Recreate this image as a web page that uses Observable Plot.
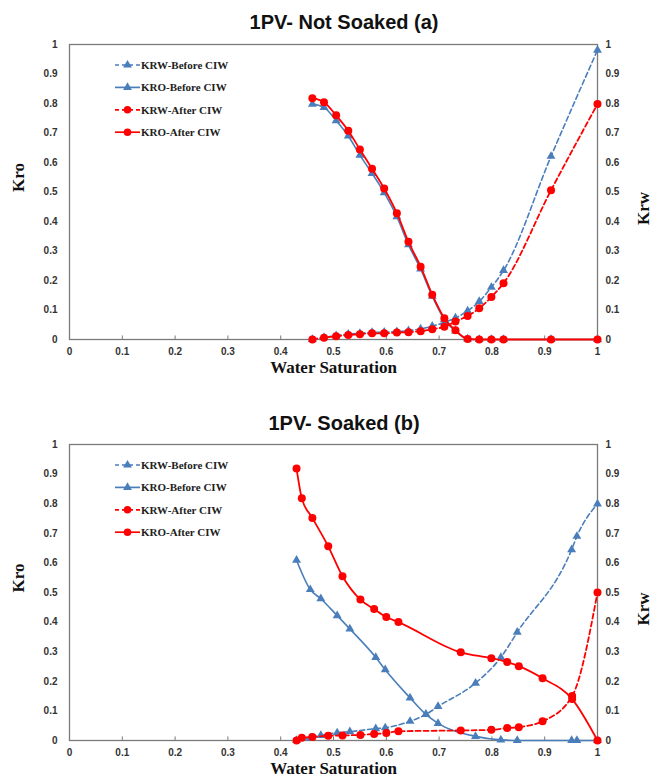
<!DOCTYPE html>
<html><head><meta charset="utf-8">
<script src="https://cdn.jsdelivr.net/npm/d3@7"></script>
<script src="https://cdn.jsdelivr.net/npm/@observablehq/plot@0.6"></script>
<style>
body{margin:0;background:#fff;}
#wrap{position:relative;width:652px;height:783px;overflow:hidden;background:#fff;}
.title{position:absolute;left:18px;width:652px;text-align:center;font:bold 20px "Liberation Sans",Arial,sans-serif;color:#111;line-height:24px;}
.chart{position:absolute;left:0;}
</style></head><body>
<div id="wrap">
<div class="title" style="top:10px">1PV- Not Soaked (a)</div>
<div class="chart" id="a" style="top:34px"></div>
<div class="title" style="top:411px">1PV- Soaked (b)</div>
<div class="chart" id="b" style="top:434px"></div>
</div>
<script>
// ---- data ----
const xTicks = [0, 0.1, 0.2, 0.3, 0.4, 0.5, 0.6, 0.7, 0.8, 0.9, 1];
const yTicks = [0, 0.1, 0.2, 0.3, 0.4, 0.5, 0.6, 0.7, 0.8, 0.9, 1];
const legendLabels = ["KRW-Before CIW", "KRO-Before CIW", "KRW-After CIW", "KRO-After CIW"];

// Chart (a) Not soaked
const swA = [0.460, 0.482, 0.505, 0.528, 0.550, 0.573, 0.596, 0.620, 0.642, 0.665, 0.687, 0.710, 0.731, 0.754, 0.776, 0.799, 0.822, 0.912, 1.0];
const krwBeforeA = [0, 0.007, 0.013, 0.018, 0.021, 0.024, 0.025, 0.027, 0.030, 0.036, 0.045, 0.058, 0.073, 0.097, 0.129, 0.177, 0.234, 0.621, 0.981];
const kroBeforeA = [0.798, 0.787, 0.742, 0.690, 0.625, 0.563, 0.498, 0.416, 0.321, 0.239, 0.147, 0.068, 0.029, 0.002, 0, 0, 0, 0, 0];
const krwAfterA = [0, 0.006, 0.011, 0.015, 0.018, 0.021, 0.021, 0.024, 0.025, 0.028, 0.035, 0.043, 0.061, 0.080, 0.106, 0.144, 0.191, 0.506, 0.798];
const kroAfterA = [0.818, 0.804, 0.760, 0.708, 0.644, 0.579, 0.512, 0.428, 0.331, 0.247, 0.152, 0.072, 0.031, 0.002, 0, 0, 0, 0, 0];

// Chart (b) Soaked
const swBeforeB = [0.430, 0.456, 0.476, 0.507, 0.531, 0.580, 0.598, 0.645, 0.675, 0.698, 0.769, 0.817, 0.848, 0.951, 0.961, 1.0];
const krwBeforeB = [0, 0.008, 0.017, 0.026, 0.030, 0.040, 0.043, 0.065, 0.088, 0.115, 0.194, 0.281, 0.366, 0.645, 0.690, 0.799];
const kroBeforeB = [0.609, 0.510, 0.479, 0.422, 0.377, 0.281, 0.239, 0.144, 0.088, 0.058, 0.014, 0.002, 0, 0, 0, 0];
const swAfterB = [0.430, 0.440, 0.460, 0.490, 0.517, 0.551, 0.577, 0.600, 0.623, 0.741, 0.799, 0.829, 0.851, 0.896, 0.952, 1.0];
const krwAfterB = [0, 0.009, 0.012, 0.016, 0.017, 0.019, 0.022, 0.025, 0.031, 0.034, 0.036, 0.042, 0.045, 0.065, 0.150, 0.500];
const kroAfterB = [0.919, 0.818, 0.752, 0.656, 0.555, 0.476, 0.444, 0.417, 0.400, 0.298, 0.278, 0.265, 0.251, 0.210, 0.140, 0];

// ---- styling ----
const BLUE = "#4a7ebb", RED = "#ff0000", FRAME = "#7a7a7a";
const fmt = d => String(+d.toFixed(1));
const serif = '"Liberation Serif","Times New Roman",serif';
const sans = '"Liberation Sans",Arial,sans-serif';

function table(sw, krw, kro) { return sw.map((x, i) => ({sw: x, krw: krw[i], kro: kro[i]})); }

function makeChart(before, after, height, marginBottom) {
  const lineOpts = {x: "sw", curve: "monotone-x"};
  const svg = Plot.plot({
    width: 652, height, marginLeft: 69, marginRight: 55, marginTop: 10, marginBottom,
    x: {domain: [0, 1], label: null},
    y: {domain: [0, 1], label: null},
    style: {fontFamily: sans, background: "#fff"},
    marks: [
      Plot.frame({stroke: FRAME, strokeWidth: 1.3}),
      Plot.ruleX(xTicks, {x: d => d, y1: 0, y2: 0.012, stroke: FRAME}),
      Plot.axisX({ticks: xTicks, tickSize: 0, tickPadding: 8, tickFormat: fmt, fontSize: 10, fontWeight: "bold", fill: "#333", label: null}),
      Plot.axisY({anchor: "left", ticks: yTicks, tickSize: 0, tickPadding: 12, tickFormat: fmt, fontSize: 10, fontWeight: "bold", fill: "#333", label: null}),
      Plot.axisY({anchor: "right", ticks: yTicks, tickSize: 0, tickPadding: 8, tickFormat: fmt, fontSize: 10, fontWeight: "bold", fill: "#333", label: null}),
      Plot.text(["Kro"], {text: d => d, frameAnchor: "left", dx: -51, rotate: -90, fontFamily: serif, fontSize: 17, fontWeight: "bold", fill: "#111"}),
      Plot.text(["Krw"], {text: d => d, frameAnchor: "right", dx: 46, rotate: -90, fontFamily: serif, fontSize: 17, fontWeight: "bold", fill: "#111"}),
      Plot.text(["Water Saturation"], {text: d => d, frameAnchor: "bottom", dy: 33, fontFamily: serif, fontSize: 17, fontWeight: "bold", fill: "#111"}),
      // KRW-Before
      Plot.line(before, {...lineOpts, y: "krw", stroke: BLUE, strokeWidth: 1.6, strokeDasharray: "5,3"}),
      Plot.dot(before, {x: "sw", y: "krw", symbol: "triangle", r: 3.3, fill: BLUE}),
      // KRO-Before
      Plot.line(before, {...lineOpts, y: "kro", stroke: BLUE, strokeWidth: 1.6}),
      Plot.dot(before, {x: "sw", y: "kro", symbol: "triangle", r: 3.3, fill: BLUE}),
      // KRW-After
      Plot.line(after, {...lineOpts, y: "krw", stroke: RED, strokeWidth: 1.8, strokeDasharray: "5,3"}),
      Plot.dot(after, {x: "sw", y: "krw", r: 4, fill: RED}),
      // KRO-After
      Plot.line(after, {...lineOpts, y: "kro", stroke: RED, strokeWidth: 1.8}),
      Plot.dot(after, {x: "sw", y: "kro", r: 4, fill: RED})
    ]
  });
  // legend
  const items = [
    {color: BLUE, dash: "4,3", sym: "triangle"},
    {color: BLUE, dash: null, sym: "triangle"},
    {color: RED, dash: "4,3", sym: "circle"},
    {color: RED, dash: null, sym: "circle"}
  ];
  const g = d3.select(svg).append("g").attr("text-anchor", "start");
  legendLabels.forEach((lab, i) => {
    const y = 10 + 21 + i * 22.4;
    const it = items[i];
    g.append("line").attr("x1", 115).attr("x2", 140).attr("y1", y).attr("y2", y)
      .attr("stroke", it.color).attr("stroke-width", 1.7).attr("stroke-dasharray", it.dash);
    if (it.sym === "triangle") {
      g.append("path").attr("d", d3.symbol(d3.symbolTriangle, 34)()).attr("transform", `translate(127.5,${y})`).attr("fill", it.color);
    } else {
      g.append("circle").attr("cx", 127.5).attr("cy", y).attr("r", 3.8).attr("fill", it.color);
    }
    g.append("text").attr("x", 141).attr("y", y).attr("dy", "0.35em").attr("text-anchor", "start").text(lab)
      .attr("font-family", serif).attr("font-size", 11).attr("font-weight", "bold").attr("fill", "#222");
  });
  return svg;
}

document.getElementById("a").appendChild(makeChart(table(swA, krwBeforeA, kroBeforeA), table(swA, krwAfterA, kroAfterA), 356, 51));
document.getElementById("b").appendChild(makeChart(table(swBeforeB, krwBeforeB, kroBeforeB), table(swAfterB, krwAfterB, kroAfterB), 349, 43));
</script>
</body></html>
